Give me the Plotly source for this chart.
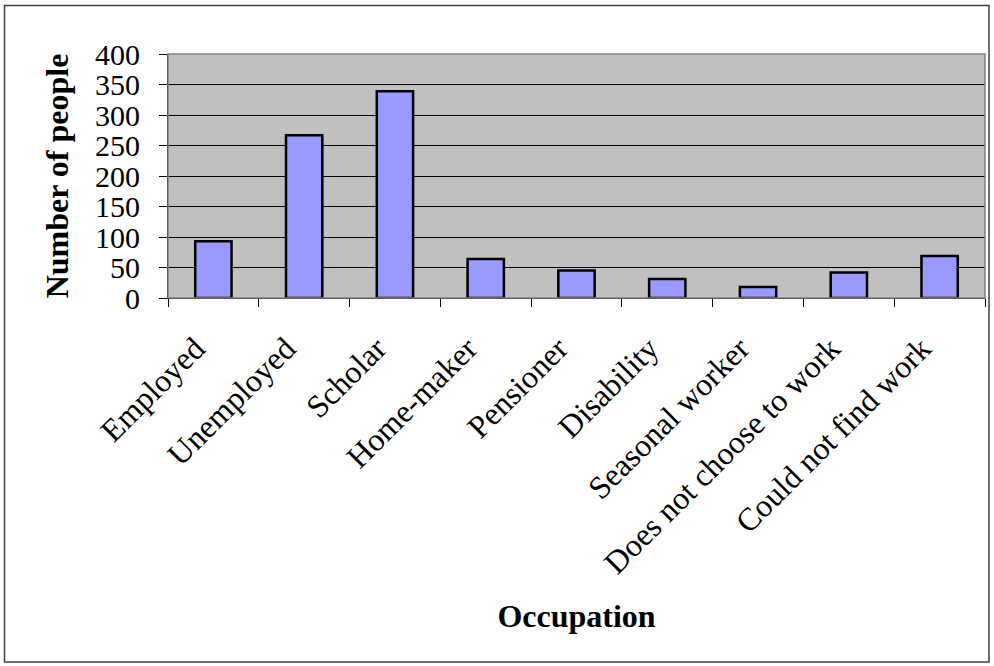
import plotly.graph_objects as go

# Survey counts by occupation
occupations = [
    "Employed", "Unemployed", "Scholar", "Home-maker", "Pensioner",
    "Disability", "Seasonal worker", "Does not choose to work", "Could not find work",
]
people = [93, 267, 339, 64, 45, 31, 18, 42, 69]
y_ticks = [0, 50, 100, 150, 200, 250, 300, 350, 400]

W, H = 994, 666
ML, MR, MT, MB = 168, 9, 54, 368
pw, ph = W - ML - MR, H - MT - MB

def px_x(p):
    return (p - ML) / pw

def px_y(p):
    return 1 - (p - MT) / ph

FONT = "Liberation Serif, Times New Roman, serif"

fig = go.Figure(
    go.Bar(
        x=occupations,
        y=people,
        width=0.4,
        marker=dict(color="#9999FF", line=dict(color="#000000", width=2.5)),
    )
)

fig.update_layout(
    width=W,
    height=H,
    margin=dict(l=ML, r=MR, t=MT, b=MB, autoexpand=False),
    paper_bgcolor="#FFFFFF",
    plot_bgcolor="#C0C0C0",
    showlegend=False,
    font=dict(family=FONT, color="#000000", size=32),
    shapes=[
        # outer chart frame
        dict(type="rect", xref="paper", yref="paper",
             x0=px_x(4.5), x1=px_x(989), y0=px_y(662), y1=px_y(5.5),
             line=dict(color="#404040", width=1.5), layer="below"),
        # plot area frame (top/right grey edge)
        dict(type="rect", xref="paper", yref="paper",
             x0=0, x1=1, y0=0, y1=1,
             line=dict(color="#808080", width=1.5), layer="above"),
    ],
)

fig.update_xaxes(
    type="category",
    tickangle=-45,
    tickson="boundaries",
    ticks="outside",
    ticklen=8,
    tickwidth=1,
    tickcolor="#000000",
    showline=True,
    linecolor="#000000",
    linewidth=1,
    showgrid=False,
    ticklabelstandoff=18,
    ticklabelshift=-18,
    tickfont=dict(size=32, family=FONT),
    title=dict(text="<b>Occupation</b>", font=dict(size=32, family=FONT), standoff=24),
)

fig.update_yaxes(
    range=[0, 400],
    tickvals=y_ticks,
    ticks="outside",
    ticklen=8,
    tickwidth=1,
    tickcolor="#000000",
    showline=True,
    linecolor="#000000",
    linewidth=1,
    showgrid=True,
    gridcolor="#000000",
    gridwidth=1,
    zeroline=False,
    ticklabelstandoff=13,
    tickfont=dict(size=30, family=FONT),
    title=dict(text="<b>Number of people</b>", font=dict(size=32, family=FONT), standoff=16),
)

fig.write_html("out.html")
